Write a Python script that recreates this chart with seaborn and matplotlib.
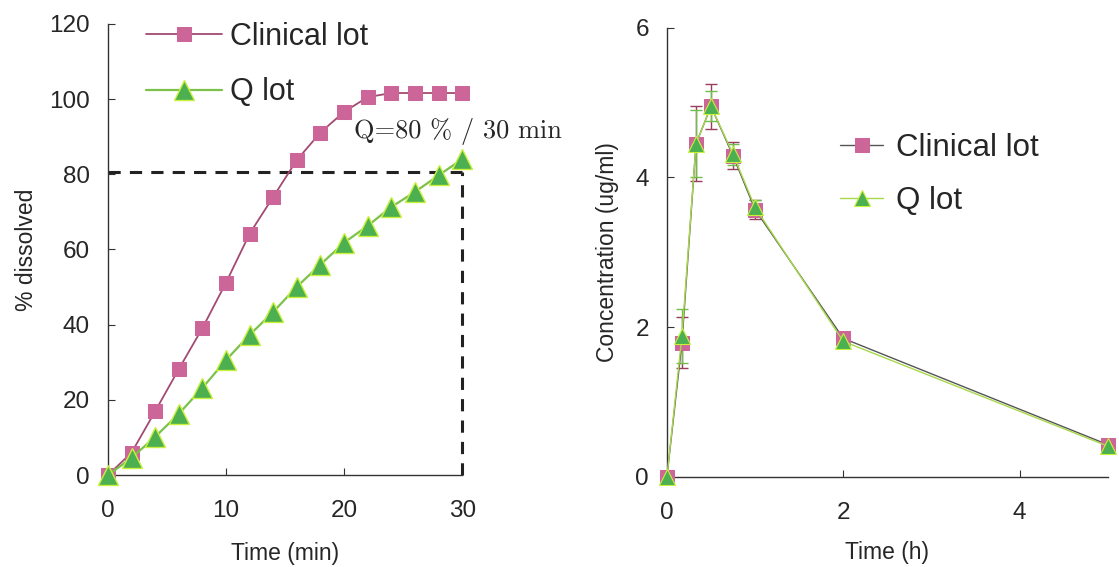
import numpy as np
import pandas as pd
import seaborn as sns
import matplotlib
matplotlib.use("Agg")
import matplotlib.pyplot as plt

# dissolution data (left panel)
diss_time = [0, 2, 4, 6, 8, 10, 12, 14, 16, 18, 20, 22, 24, 26, 28, 30]
diss_clinical = [0, 6, 17, 28.2, 39.1, 51.2, 64.2, 74, 83.8, 91.1, 96.6, 100.5, 101.6, 101.6, 101.6, 101.6]
diss_q = [0, 4.6, 10.2, 16.3, 23.2, 30.6, 37.3, 43.4, 50.1, 56, 61.8, 66.3, 71.3, 75.3, 79.7, 84]

# plasma concentration data (right panel)
pk_time = [0, 0.17, 0.33, 0.5, 0.75, 1, 2, 5]
pk_clinical = [0, 1.79, 4.45, 4.95, 4.29, 3.57, 1.85, 0.43]
pk_clinical_sd = [0, 0.34, 0.5, 0.3, 0.18, 0.13, 0.03, 0.03]
pk_q = [0, 1.88, 4.45, 4.95, 4.31, 3.6, 1.81, 0.41]
pk_q_sd = [0, 0.36, 0.45, 0.2, 0.14, 0.1, 0.03, 0.03]

pink = "#cc6699"
maroon = "#a34a72"
green = "#4caf50"
lime = "#c8f03c"

sns.set_style("white")
plt.rcParams['font.family'] = ['Liberation Sans', 'DejaVu Sans']

fig = plt.figure(figsize=(11.19, 5.67), dpi=100)
ax1 = fig.add_axes([0.0965, 0.162, 0.3165, 0.796])
ax2 = fig.add_axes([0.596, 0.159, 0.394, 0.792])

df_diss = pd.DataFrame({"time": diss_time, "Clinical lot": diss_clinical, "Q lot": diss_q})

sns.lineplot(data=df_diss, x="time", y="Clinical lot", ax=ax1, color=maroon, lw=1.3,
             marker="s", markersize=9.5, markerfacecolor=pink, markeredgecolor=pink,
             label="Clinical lot", clip_on=False, zorder=3)
sns.lineplot(data=df_diss, x="time", y="Q lot", ax=ax1, color="#7cc24a", lw=1.6,
             marker="^", markersize=14, markerfacecolor=green, markeredgecolor=lime,
             markeredgewidth=1.0, label="Q lot", clip_on=False, zorder=4)

# Q specification
ax1.plot([0, 30], [80.5, 80.5], ls=(0, (4, 3)), color="#222222", lw=2.2, zorder=2, clip_on=False)
ax1.plot([30, 30], [0, 80.5], ls=(0, (4, 3)), color="#222222", lw=2.2, zorder=2, clip_on=False)
ax1.text(20.8, 91.5, "Q=80 % / 30 min", family="cmr10", fontsize=19, va="center", ha="left")

ax1.set_xlim(0, 30)
ax1.set_ylim(0, 120)
ax1.set_xticks([0, 10, 20, 30])
ax1.set_yticks([0, 20, 40, 60, 80, 100, 120])
ax1.set_xlabel("Time (min)", fontsize=16.5, labelpad=14)
ax1.set_ylabel("% dissolved", fontsize=16.5, labelpad=8)
ax1.legend(loc="upper left", bbox_to_anchor=(0.03, 1.066), fontsize=22, frameon=False,
           handlelength=2.5, handletextpad=0.25, labelspacing=0.85)

df_pk = pd.DataFrame({"time": pk_time, "Clinical lot": pk_clinical, "Q lot": pk_q})

ax2.errorbar(pk_time, pk_clinical, yerr=pk_clinical_sd, fmt="none", ecolor="#9b3d5e",
             elinewidth=1.0, capsize=4, capthick=1.0, zorder=2)
ax2.errorbar(pk_time, pk_q, yerr=pk_q_sd, fmt="none", ecolor="#6fbf4a",
             elinewidth=1.0, capsize=4, capthick=1.0, zorder=2)
sns.lineplot(data=df_pk, x="time", y="Clinical lot", ax=ax2, color="#555555", lw=1.0,
             marker="s", markersize=9.5, markerfacecolor=pink, markeredgecolor=pink,
             label="Clinical lot", clip_on=False, zorder=3)
sns.lineplot(data=df_pk, x="time", y="Q lot", ax=ax2, color="#a8d84a", lw=1.0,
             marker="^", markersize=11, markerfacecolor=green, markeredgecolor=lime,
             markeredgewidth=0.8, label="Q lot", clip_on=False, zorder=4)

ax2.set_xlim(0, 5)
ax2.set_ylim(0, 6)
ax2.set_xticks([0, 2, 4])
ax2.set_yticks([0, 2, 4, 6])
ax2.set_xlabel("Time (h)", fontsize=16.5, labelpad=12)
ax2.set_ylabel("Concentration (ug/ml)", fontsize=16.5, labelpad=12)
ax2.legend(loc="upper left", bbox_to_anchor=(0.328, 0.829), fontsize=22.5, frameon=False,
           handlelength=1.4, handletextpad=0.4, labelspacing=0.75)

for ax in (ax1, ax2):
    sns.despine(ax=ax)
    for s in ("left", "bottom"):
        ax.spines[s].set_color("#333333")
        ax.spines[s].set_linewidth(1.0)
    ax.tick_params(direction="in", length=5, width=0.8, color="#333333",
                   labelsize=17.5, pad=13, left=True, bottom=True)
    ax.tick_params(axis="x", pad=18)

fig.savefig("out.png", dpi=100)
